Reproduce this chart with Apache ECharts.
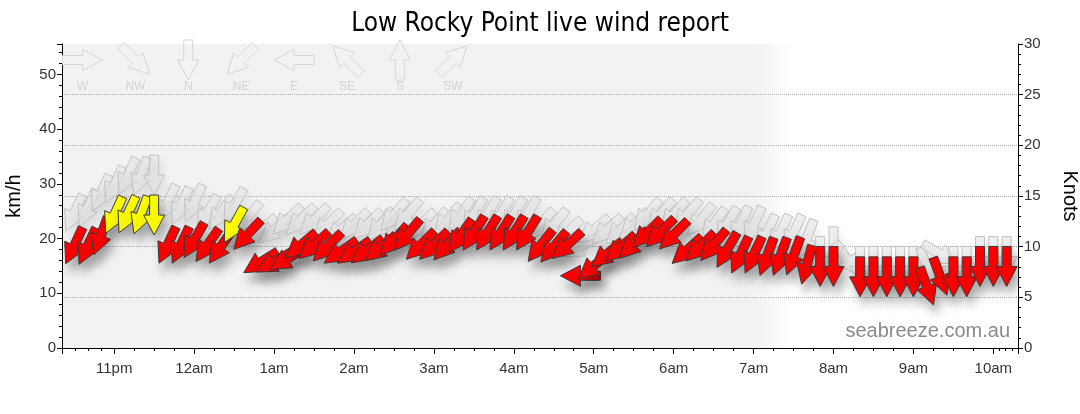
<!DOCTYPE html>
<html>
<head>
<meta charset="utf-8">
<script src="https://cdn.jsdelivr.net/npm/echarts@6/dist/echarts.min.js"></script>
<style>
  html, body { margin: 0; padding: 0; background: #fff; }
  #chart { width: 1080px; height: 414px; }
</style>
</head>
<body>
<div id="chart"></div>
<script>
// 10 minute observations, 22:30 to 10:10
const times = ['22:30','22:40','22:50','23:00','23:10','23:20','23:30','23:40','23:50',
  '00:00','00:10','00:20','00:30','00:40','00:50','01:00','01:10','01:20','01:30','01:40','01:50',
  '02:00','02:10','02:20','02:30','02:40','02:50','03:00','03:10','03:20','03:30','03:40','03:50',
  '04:00','04:10','04:20','04:30','04:40','04:50','05:00','05:10','05:20','05:30','05:40','05:50',
  '06:00','06:10','06:20','06:30','06:40','06:50','07:00','07:10','07:20','07:30','07:40','07:50',
  '08:00','08:10','08:20','08:30','08:40','08:50','09:00','09:10','09:20','09:30','09:40','09:50',
  '10:00','10:10'];

// wind speed (km/h) and direction it blows from (degrees)
const speeds = [18.7,18.6,20.5,24.3,24.4,24.3,24.3,18.8,18.8,
  19.7,18.8,18.5,22.5,20.7,15.7,15.7,16.3,18.8,18.8,18.5,17.6,
  17.6,17.8,18.3,19.7,20.7,18.8,18.8,18.8,20.5,21.0,21.0,21.0,
  21.0,21.0,18.7,18.5,18.8,13.2,15.0,17.2,18.3,19.0,21.0,21.1,
  20.7,17.9,18.5,18.8,17.9,17.0,17.0,16.7,16.7,16.8,15.2,14.9,
  14.9,null,13.0,13.0,13.0,13.0,13.0,11.3,13.1,13.0,13.0,14.9,
  14.9,14.9];
const dirs = [25,25,20,25,25,20,0,25,25,
  30,35,35,29,43,58,60,58,50,48,45,55,
  55,52,50,42,40,45,45,42,35,32,32,32,
  32,32,38,40,48,90,50,50,48,45,45,45,
  45,48,45,40,30,25,25,20,20,20,15,0,
  0,null,0,0,0,0,0,340,340,0,0,0,
  0,0];

// gusts (km/h) and their direction
const gusts = [24.7,25.6,28.3,29.8,31.4,31.4,31.6,26.5,26.0,
  26.5,24.7,24.7,26.0,23.8,21.6,21.6,23.4,23.4,23.4,22.5,21.6,
  22.5,22.5,22.5,24.3,24.3,22.5,22.5,23.4,24.3,24.3,24.3,24.3,
  24.3,24.3,22.5,22.5,21.0,18.5,21.6,21.6,21.6,22.5,24.3,24.3,
  24.3,24.3,23.4,22.5,22.5,22.5,22.5,21.0,21.0,21.0,20.0,16.7,
  18.5,16.3,14.9,14.9,14.9,14.9,14.9,14.9,17.2,14.9,14.9,16.7,
  16.7,16.7];
const gustDirs = [25,25,25,25,25,20,0,25,25,
  25,30,35,30,40,50,50,45,45,45,45,50,
  45,45,40,40,40,45,40,40,35,30,30,30,
  30,30,40,40,45,60,50,48,45,45,40,40,
  40,40,40,35,30,25,25,25,25,25,20,0,
  0,325,0,0,0,0,0,340,300,0,0,0,
  0,0];

const compassNames = ['W','NW','N','NE','E','SE','S','SW'];
const compassDirs = [270,315,0,45,90,135,180,225];

const KMH_PER_KNOT = 1.852;
const yellowFrom = 12 * KMH_PER_KNOT;

function toMs(t) {
  const [h, m] = t.split(':').map(Number);
  return new Date(2024, 0, h >= 12 ? 1 : 2, h, m).getTime();
}
const xMin = new Date(2024, 0, 1, 22, 20, 50).getTime();
const xMax = new Date(2024, 0, 2, 10, 18, 30).getTime();
const nightEnd = new Date(2024, 0, 2, 7, 28).getTime();

// arrow polygon centred on (cx, cy), pointing downwind
function arrowPts(cx, cy, deg) {
  const L = 40, sw = 4.5, hw = 10.5;
  const local = [[-sw,-L/2],[sw,-L/2],[sw,0],[hw,0],[0,L/2],[-hw,0],[-sw,0]];
  const a = deg * Math.PI / 180, c = Math.cos(a), s = Math.sin(a);
  return local.map(([x, y]) => [cx + x * c - y * s, cy + x * s + y * c]);
}

const speedData = times.map((t, i) => [toMs(t), speeds[i], dirs[i]]).filter(d => d[1] != null);
const gustData = times.map((t, i) => [toMs(t), gusts[i], gustDirs[i]]).filter(d => d[1] != null);

const chart = echarts.init(document.getElementById('chart'));

const fade = (nightEnd - xMin) / (xMax - xMin);

// legend glyphs across the top of the plot
const legendGraphics = [];
compassNames.forEach((name, i) => {
  const cx = 82.5 + i * 52.9;
  legendGraphics.push({
    type: 'polygon', silent: true, z: 1,
    shape: { points: arrowPts(cx, 60, compassDirs[i]) },
    style: { fill: 'rgba(0,0,0,0)', stroke: '#d6d6d6', lineWidth: 1 }
  });
  legendGraphics.push({
    type: 'text', silent: true, z: 1,
    x: cx, y: 87,
    style: { text: name, fill: '#d2d2d2', font: '12px "Liberation Sans", Arial, sans-serif', align: 'center', verticalAlign: 'middle' }
  });
});

const hourLabel = v => {
  const h = new Date(v).getHours();
  return (h % 12 || 12) + (h < 12 ? 'am' : 'pm');
};

const axisFont = { fontFamily: '"Liberation Sans", Arial, sans-serif', fontSize: 15, color: '#333' };
// dotted knot gridlines, none on the 0 and 30 edges
const gridColors = ['rgba(0,0,0,0)', '#aaaaaa', '#aaaaaa', '#aaaaaa', '#aaaaaa', '#aaaaaa', 'rgba(0,0,0,0)'];

const option = {
  animation: false,
  title: {
    text: 'Low Rocky Point live wind report',
    left: 'center', top: 6,
    textStyle: { fontFamily: '"DejaVu Sans Condensed", "Liberation Sans", sans-serif', fontSize: 26, fontWeight: 'normal', color: '#000' }
  },
  grid: {
    left: 62, right: 62, top: 44, bottom: 66,
    outerBoundsMode: 'none',
    show: true, borderWidth: 0,
    backgroundColor: new echarts.graphic.LinearGradient(0, 0, 1, 0, [
      { offset: 0, color: '#f2f2f2' },
      { offset: fade - 0.038, color: '#f2f2f2' },
      { offset: fade, color: '#ffffff' },
      { offset: 1, color: '#ffffff' }
    ])
  },
  xAxis: {
    type: 'time', min: xMin, max: xMax,
    minInterval: 3600 * 1000, maxInterval: 3600 * 1000,
    axisLine: { lineStyle: { color: '#000' } },
    axisTick: { length: 6, lineStyle: { color: '#000' } },
    minorTick: { show: true, splitNumber: 4, length: 3, lineStyle: { color: '#000' } },
    splitLine: { show: false },
    axisLabel: Object.assign({ formatter: hourLabel, margin: 13, showMinLabel: false, showMaxLabel: false }, axisFont)
  },
  yAxis: [{
    type: 'value', min: 0, max: 30 * KMH_PER_KNOT, interval: 10,
    name: 'km/h', nameLocation: 'middle', nameGap: 38,
    nameTextStyle: { fontFamily: '"Liberation Sans", Arial, sans-serif', fontSize: 20, color: '#000' },
    axisLine: { show: true, lineStyle: { color: '#000' } },
    axisTick: { show: true, length: 5, lineStyle: { color: '#000' } },
    minorTick: { show: true, splitNumber: 5, length: 3, lineStyle: { color: '#000' } },
    splitLine: { show: false },
    axisLabel: Object.assign({ showMaxLabel: false, margin: 6 }, axisFont)
  }, {
    type: 'value', min: 0, max: 30, interval: 5, position: 'right',
    name: 'Knots', nameLocation: 'middle', nameGap: 42, nameRotate: -90,
    nameTextStyle: { fontFamily: '"Liberation Sans", Arial, sans-serif', fontSize: 20, color: '#000' },
    axisLine: { show: true, lineStyle: { color: '#000' } },
    axisTick: { show: true, length: 5, lineStyle: { color: '#000' } },
    minorTick: { show: true, splitNumber: 5, length: 3, lineStyle: { color: '#000' } },
    splitLine: { show: true, lineStyle: { type: 'dotted', color: gridColors, width: 1 } },
    axisLabel: Object.assign({ margin: 6 }, axisFont)
  }],
  graphic: legendGraphics.concat([{
    type: 'text', right: 70, top: 321, silent: true, z: 1,
    style: { text: 'seabreeze.com.au', fill: '#8a8a8a', font: '20px "Liberation Sans", Arial, sans-serif' }
  }]),
  series: [{
    name: 'Gust',
    type: 'custom',
    coordinateSystem: 'cartesian2d',
    yAxisIndex: 0,
    z: 2,
    clip: true,
    data: gustData,
    encode: { x: 0, y: 1 },
    renderItem: (params, api) => {
      const p = api.coord([api.value(0), api.value(1)]);
      return {
        type: 'polygon',
        shape: { points: arrowPts(p[0], p[1], api.value(2)) },
        style: {
          fill: 'rgba(230,230,230,0.6)', stroke: '#c2c2c2', lineWidth: 1,
          shadowBlur: 8, shadowOffsetX: 3, shadowOffsetY: 8, shadowColor: 'rgba(0,0,0,0.10)'
        }
      };
    }
  }, {
    name: 'Speed',
    type: 'custom',
    coordinateSystem: 'cartesian2d',
    yAxisIndex: 0,
    z: 3,
    clip: true,
    data: speedData,
    encode: { x: 0, y: 1 },
    renderItem: (params, api) => {
      const p = api.coord([api.value(0), api.value(1)]);
      return {
        type: 'polygon',
        shape: { points: arrowPts(p[0], p[1], api.value(2)) },
        style: {
          fill: api.value(1) >= yellowFrom ? '#ffff00' : '#ff0000',
          stroke: '#3a3a3a', lineWidth: 1,
          shadowBlur: 10, shadowOffsetX: 4, shadowOffsetY: 9, shadowColor: 'rgba(0,0,0,0.28)'
        }
      };
    }
  }]
};

chart.setOption(option);
</script>
</body>
</html>
